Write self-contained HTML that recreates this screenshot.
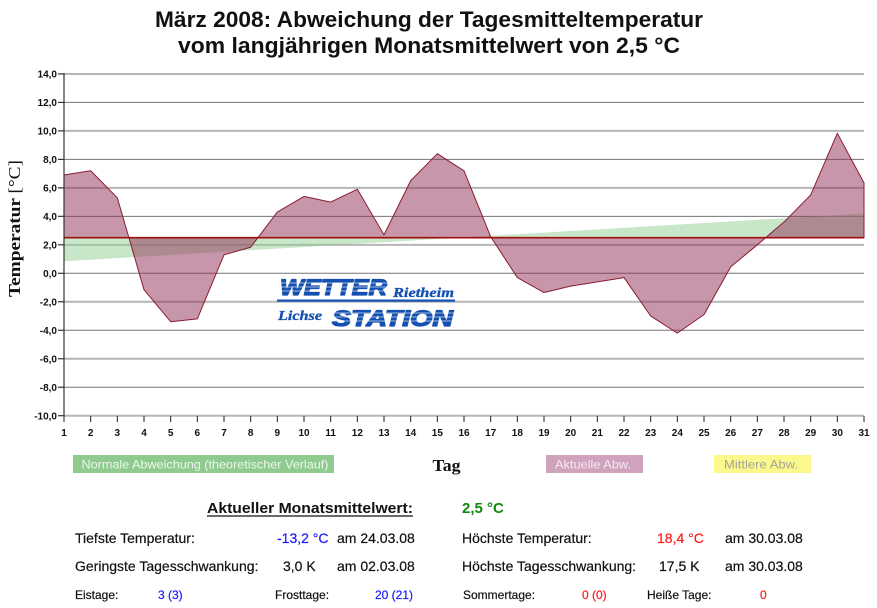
<!DOCTYPE html>
<html><head><meta charset="utf-8"><style>
html,body{margin:0;padding:0;background:#fff;}
svg{display:block;}
</style></head><body>
<svg width="877" height="608" viewBox="0 0 877 608" xmlns="http://www.w3.org/2000/svg">
<rect width="877" height="608" fill="#fff"/>
<!-- Title -->
<g font-family="Liberation Sans, Arial, sans-serif" font-weight="bold" font-size="22.5" fill="#111" text-anchor="middle">
<text x="429" y="27" textLength="548" lengthAdjust="spacingAndGlyphs">März 2008: Abweichung der Tagesmitteltemperatur</text>
<text x="429" y="53" textLength="502" lengthAdjust="spacingAndGlyphs">vom langjährigen Monatsmittelwert von 2,5 °C</text>
</g>
<!-- Gridlines -->
<g stroke="#b6b6b6" stroke-width="2">
<line x1="64" x2="864" y1="73.94" y2="73.94"/>
<line x1="64" x2="864" y1="130.9" y2="130.9"/>
<line x1="64" x2="864" y1="187.86" y2="187.86"/>
<line x1="64" x2="864" y1="244.82" y2="244.82"/>
<line x1="64" x2="864" y1="301.78" y2="301.78"/>
<line x1="64" x2="864" y1="358.74" y2="358.74"/>
<line x1="64" x2="864" y1="415.7" y2="415.7"/>
</g>
<g stroke="#747474" stroke-width="1">
<line x1="64" x2="864" y1="102.42" y2="102.42"/>
<line x1="64" x2="864" y1="159.38" y2="159.38"/>
<line x1="64" x2="864" y1="216.34" y2="216.34"/>
<line x1="64" x2="864" y1="273.3" y2="273.3"/>
<line x1="64" x2="864" y1="330.26" y2="330.26"/>
<line x1="64" x2="864" y1="387.22" y2="387.22"/>
</g>
<!-- Logo -->
<g font-family="Liberation Sans, Arial, sans-serif" font-weight="bold" font-style="italic" fill="#1450b0" stroke="#1450b0" stroke-width="1.3" stroke-linejoin="round">
<text x="280" y="295" font-size="22" textLength="107" lengthAdjust="spacingAndGlyphs">WETTER</text>
<text x="332" y="326" font-size="22" textLength="121" lengthAdjust="spacingAndGlyphs">STATION</text>
</g>
<g stroke="#fff" stroke-width="0.8" opacity="0.8">
<line x1="278" x2="390" y1="283" y2="283"/><line x1="278" x2="390" y1="287" y2="287"/><line x1="278" x2="390" y1="291" y2="291"/>
<line x1="330" x2="456" y1="313" y2="313"/><line x1="330" x2="456" y1="317" y2="317"/><line x1="330" x2="456" y1="321" y2="321"/>
</g>
<g font-family="Liberation Serif, Times New Roman, serif" font-weight="bold" font-style="italic" fill="#1450b0" font-size="14" stroke="#1450b0" stroke-width="0.3">
<text x="393" y="297" textLength="61" lengthAdjust="spacingAndGlyphs">Rietheim</text>
<text x="278" y="320" textLength="44" lengthAdjust="spacingAndGlyphs">Lichse</text>
</g>
<rect x="277" y="299.5" width="178" height="2.2" fill="#1450b0"/>
<!-- Green normal band -->
<path d="M64,237.7 L864,237.7 L864,213.5 L64,261.3 Z" fill="#91cd91" fill-opacity="0.5"/>
<!-- Pink actual -->
<path d="M64,237.7 L64,175.04 L90.67,170.77 L117.33,197.83 L144,289.68 L170.67,321.72 L197.33,318.87 L224,254.79 L250.67,247.24 L277.33,212.07 L304,196.4 L330.67,202.1 L357.33,189.28 L384,234.85 L410.67,180.74 L437.33,153.68 L464,170.77 L490.67,236.7 L517.33,277.57 L544,292.52 L570.67,286.12 L597.33,281.84 L624,277.57 L650.67,316.02 L677.33,333.11 L704,314.6 L730.67,266.89 L757.33,244.82 L784,222.04 L810.67,194.98 L837.33,133.32 L864,182.88 L864,237.7 Z" fill="#8f2d57" fill-opacity="0.5" stroke="#8a1c30" stroke-width="1" stroke-linejoin="round"/>
<line x1="64" x2="864" y1="237.7" y2="237.7" stroke="#a00d0d" stroke-width="1.6"/>
<!-- Axes -->
<line x1="64" x2="64" y1="73" y2="416.5" stroke="#333" stroke-width="1.2"/>
<g stroke="#333" stroke-width="1.2">
<line x1="58" x2="64" y1="73.94" y2="73.94"/><line x1="58" x2="64" y1="102.42" y2="102.42"/><line x1="58" x2="64" y1="130.9" y2="130.9"/><line x1="58" x2="64" y1="159.38" y2="159.38"/><line x1="58" x2="64" y1="187.86" y2="187.86"/><line x1="58" x2="64" y1="216.34" y2="216.34"/><line x1="58" x2="64" y1="244.82" y2="244.82"/><line x1="58" x2="64" y1="273.3" y2="273.3"/><line x1="58" x2="64" y1="301.78" y2="301.78"/><line x1="58" x2="64" y1="330.26" y2="330.26"/><line x1="58" x2="64" y1="358.74" y2="358.74"/><line x1="58" x2="64" y1="387.22" y2="387.22"/><line x1="58" x2="64" y1="415.7" y2="415.7"/>
</g>
<g stroke="#444" stroke-width="1.2">
<line x1="64" x2="64" y1="416" y2="422"/><line x1="90.67" x2="90.67" y1="416" y2="422"/><line x1="117.33" x2="117.33" y1="416" y2="422"/><line x1="144" x2="144" y1="416" y2="422"/><line x1="170.67" x2="170.67" y1="416" y2="422"/><line x1="197.33" x2="197.33" y1="416" y2="422"/><line x1="224" x2="224" y1="416" y2="422"/><line x1="250.67" x2="250.67" y1="416" y2="422"/><line x1="277.33" x2="277.33" y1="416" y2="422"/><line x1="304" x2="304" y1="416" y2="422"/><line x1="330.67" x2="330.67" y1="416" y2="422"/><line x1="357.33" x2="357.33" y1="416" y2="422"/><line x1="384" x2="384" y1="416" y2="422"/><line x1="410.67" x2="410.67" y1="416" y2="422"/><line x1="437.33" x2="437.33" y1="416" y2="422"/><line x1="464" x2="464" y1="416" y2="422"/><line x1="490.67" x2="490.67" y1="416" y2="422"/><line x1="517.33" x2="517.33" y1="416" y2="422"/><line x1="544" x2="544" y1="416" y2="422"/><line x1="570.67" x2="570.67" y1="416" y2="422"/><line x1="597.33" x2="597.33" y1="416" y2="422"/><line x1="624" x2="624" y1="416" y2="422"/><line x1="650.67" x2="650.67" y1="416" y2="422"/><line x1="677.33" x2="677.33" y1="416" y2="422"/><line x1="704" x2="704" y1="416" y2="422"/><line x1="730.67" x2="730.67" y1="416" y2="422"/><line x1="757.33" x2="757.33" y1="416" y2="422"/><line x1="784" x2="784" y1="416" y2="422"/><line x1="810.67" x2="810.67" y1="416" y2="422"/><line x1="837.33" x2="837.33" y1="416" y2="422"/><line x1="864" x2="864" y1="416" y2="422"/>
</g>
<!-- Y labels -->
<g font-family="Liberation Sans, Arial, sans-serif" font-weight="bold" font-size="10" fill="#111" text-anchor="end">
<text x="57" y="77.6">14,0</text><text x="57" y="106.1">12,0</text><text x="57" y="134.6">10,0</text><text x="57" y="163">8,0</text><text x="57" y="191.5">6,0</text><text x="57" y="220">4,0</text><text x="57" y="248.5">2,0</text><text x="57" y="277">0,0</text><text x="57" y="305.4">-2,0</text><text x="57" y="333.9">-4,0</text><text x="57" y="362.4">-6,0</text><text x="57" y="390.9">-8,0</text><text x="57" y="419.4">-10,0</text>
</g>
<!-- X labels -->
<g font-family="Liberation Sans, Arial, sans-serif" font-weight="bold" font-size="10" fill="#111" text-anchor="middle">
<text x="64" y="436">1</text><text x="90.67" y="436">2</text><text x="117.33" y="436">3</text><text x="144" y="436">4</text><text x="170.67" y="436">5</text><text x="197.33" y="436">6</text><text x="224" y="436">7</text><text x="250.67" y="436">8</text><text x="277.33" y="436">9</text><text x="304" y="436">10</text><text x="330.67" y="436">11</text><text x="357.33" y="436">12</text><text x="384" y="436">13</text><text x="410.67" y="436">14</text><text x="437.33" y="436">15</text><text x="464" y="436">16</text><text x="490.67" y="436">17</text><text x="517.33" y="436">18</text><text x="544" y="436">19</text><text x="570.67" y="436">20</text><text x="597.33" y="436">21</text><text x="624" y="436">22</text><text x="650.67" y="436">23</text><text x="677.33" y="436">24</text><text x="704" y="436">25</text><text x="730.67" y="436">26</text><text x="757.33" y="436">27</text><text x="784" y="436">28</text><text x="810.67" y="436">29</text><text x="837.33" y="436">30</text><text x="864" y="436">31</text>
</g>
<!-- Axis titles -->
<text transform="translate(20,228.5) rotate(-90)" font-family="Liberation Serif, Times New Roman, serif" font-size="17" fill="#111" text-anchor="middle" textLength="137" lengthAdjust="spacingAndGlyphs"><tspan font-weight="bold">Temperatur </tspan><tspan>[°C]</tspan></text>
<text x="432.5" y="471" font-family="Liberation Serif, Times New Roman, serif" font-weight="bold" font-size="17" fill="#111" textLength="28" lengthAdjust="spacingAndGlyphs">Tag</text>
<!-- Legend -->
<rect x="73" y="455" width="261" height="18" fill="#8fca8f"/>
<text x="81.5" y="468.5" font-family="Liberation Sans, Arial, sans-serif" font-size="12" fill="#eef6ee" textLength="247" lengthAdjust="spacingAndGlyphs">Normale Abweichung (theoretischer Verlauf)</text>
<rect x="546" y="455" width="97" height="18" fill="#d0a2bd"/>
<text x="555" y="468.5" font-family="Liberation Sans, Arial, sans-serif" font-size="12" fill="#f6eaf1" textLength="76" lengthAdjust="spacingAndGlyphs">Aktuelle Abw.</text>
<rect x="714" y="455" width="97" height="18" fill="#fbf98c"/>
<text x="724" y="468.5" font-family="Liberation Sans, Arial, sans-serif" font-size="12" fill="#a3a39a" textLength="74" lengthAdjust="spacingAndGlyphs">Mittlere Abw.</text>
<!-- Stats -->
<g font-family="Liberation Sans, Arial, sans-serif" fill="#111">
<text x="207" y="513" font-size="15" font-weight="bold" textLength="206" lengthAdjust="spacingAndGlyphs">Aktueller Monatsmittelwert:</text>
<line x1="207" x2="413" y1="516" y2="516" stroke="#111" stroke-width="1.2"/>
<text x="462" y="513" font-size="15" font-weight="bold" fill="#0d8a0d">2,5 °C</text>
<g font-size="14" stroke="#111" stroke-width="0.2">
<text x="75" y="543">Tiefste Temperatur:</text>
<text x="277" y="543" fill="#1a1aff" stroke="#1a1aff">-13,2 °C</text>
<text x="337" y="543">am 24.03.08</text>
<text x="462" y="543">Höchste Temperatur:</text>
<text x="657" y="543" fill="#ff1a1a" stroke="#ff1a1a">18,4 °C</text>
<text x="725" y="543">am 30.03.08</text>
<text x="75" y="571">Geringste Tagesschwankung:</text>
<text x="283" y="571">3,0 K</text>
<text x="337" y="571">am 02.03.08</text>
<text x="462" y="571">Höchste Tagesschwankung:</text>
<text x="659" y="571">17,5 K</text>
<text x="725" y="571">am 30.03.08</text>
</g>
<g font-size="12" stroke="#111" stroke-width="0.2">
<text x="75" y="599">Eistage:</text>
<text x="158" y="599" fill="#1a1aff" stroke="#1a1aff">3 (3)</text>
<text x="275" y="599">Frosttage:</text>
<text x="375" y="599" fill="#1a1aff" stroke="#1a1aff">20 (21)</text>
<text x="463" y="599">Sommertage:</text>
<text x="582" y="599" fill="#ff1a1a" stroke="#ff1a1a">0 (0)</text>
<text x="647" y="599">Heiße Tage:</text>
<text x="760" y="599" fill="#ff1a1a" stroke="#ff1a1a">0</text>
</g>
</g>
</svg>
</body></html>
